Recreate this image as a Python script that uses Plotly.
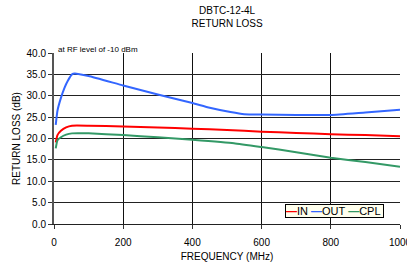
import plotly.graph_objects as go

freq_in = [5, 10, 20, 35, 52, 100, 200, 300, 400, 500, 600, 700, 800, 900, 1000]
rl_in = [19.1, 20.8, 21.8, 22.6, 23.0, 23.0, 22.8, 22.6, 22.3, 22.0, 21.6, 21.3, 21.0, 20.8, 20.5]

freq_out = [5, 10, 20, 30, 40, 52, 60, 100, 200, 300, 400, 450, 510, 550, 600, 700, 800, 900, 1000]
rl_out = [23.2, 26.5, 29.5, 31.8, 33.5, 35.0, 35.2, 34.6, 32.4, 30.3, 28.3, 27.2, 26.2, 25.7, 25.6, 25.5, 25.5, 26.1, 26.7]

freq_cpl = [5, 10, 20, 35, 52, 100, 200, 300, 400, 520, 600, 700, 800, 900, 1000]
rl_cpl = [17.7, 19.6, 20.3, 20.9, 21.2, 21.2, 20.8, 20.3, 19.7, 18.9, 18.0, 16.8, 15.5, 14.5, 13.4]

series = [("IN", freq_in, rl_in, "#FF0000"),
          ("OUT", freq_out, rl_out, "#3366FF"),
          ("CPL", freq_cpl, rl_cpl, "#339966")]

x_ticks = [0, 200, 400, 600, 800, 1000]
y_ticks = [0, 5, 10, 15, 20, 25, 30, 35, 40]

fig = go.Figure()
for name, x, y, c in series:
    fig.add_trace(go.Scatter(x=x, y=y, name=name, mode="lines",
                             line=dict(color=c, width=2, shape="spline", smoothing=0.4)))

font = "Liberation Sans, Arial, sans-serif"
fig.update_layout(
    width=407, height=262,
    margin=dict(l=54, r=7, t=53, b=38),
    paper_bgcolor="white", plot_bgcolor="white",
    showlegend=False,
    font=dict(family=font, size=11, color="black"),
    title=dict(text="DBTC-12-4L<br>RETURN LOSS", x=0.558, xanchor="center",
               y=0.945, yanchor="top", font=dict(size=10)),
    xaxis=dict(range=[0, 1000], tickvals=x_ticks, ticktext=[str(v) for v in x_ticks],
               showgrid=True, gridcolor="#111", gridwidth=1,
               ticks="outside", ticklen=4, tickcolor="#333", showline=True, linecolor="#222", linewidth=1,
               zeroline=False, automargin=False, ticklabeloverflow="allow", ticklabelstandoff=5,
               title=dict(text="FREQUENCY (MHz)", font=dict(size=10), standoff=11),
               tickfont=dict(size=10)),
    yaxis=dict(range=[0, 40], tickvals=y_ticks, tickformat=".1f", showgrid=True, gridcolor="#222",
               gridwidth=1, ticks="outside", ticklen=4, tickcolor="#333", showline=True,
               linecolor="#555", linewidth=2, zeroline=False, automargin=False,
               title=dict(text="RETURN LOSS (dB)", font=dict(size=10), standoff=4),
               tickfont=dict(size=10)),
)

legend_text = ("<span style='color:#FF0000'><b>—</b></span>IN "
               "<span style='color:#3366FF'><b>—</b></span>OUT "
               "<span style='color:#339966'><b>—</b></span>CPL ")
fig.add_annotation(xref="paper", yref="paper", x=0.955, y=0.035, xanchor="right", yanchor="bottom",
                   text=legend_text, showarrow=False, font=dict(size=11),
                   bgcolor="#FFFFEE", bordercolor="black", borderwidth=1, borderpad=0)
fig.add_annotation(xref="paper", yref="paper", x=0.005, y=1.0, xanchor="left", yanchor="bottom",
                   text="at RF level of -10 dBm", showarrow=False, font=dict(size=8), yshift=-3)

fig.write_html("out.html", config={"displayModeBar": False},
               post_script="document.body.style.margin='0';")
